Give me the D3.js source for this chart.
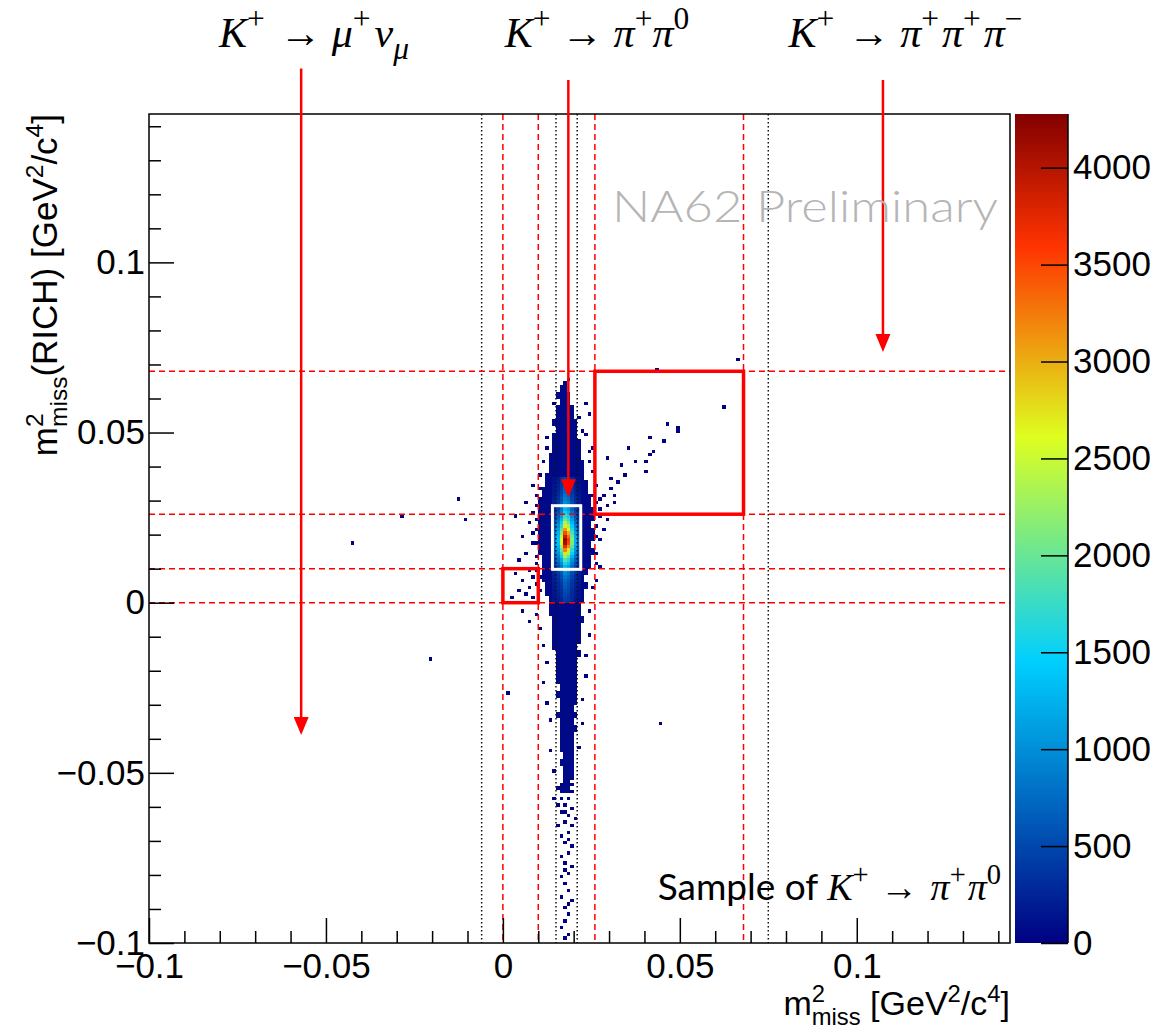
<!DOCTYPE html>
<html>
<head>
<meta charset="utf-8">
<script src="https://cdn.jsdelivr.net/npm/d3@7"></script>
<style>
  body { margin: 0; background: #fff; }
  svg { display: block; }
  text { white-space: pre; }
</style>
</head>
<body>
<svg id="chart" width="1161" height="1030"></svg>
<script>
// ── Axis ranges and ticks ──
const xDomain = [-0.1, 0.1433];
const yDomain = [-0.1, 0.1436];
const majorTicks = [-0.1, -0.05, 0, 0.05, 0.1];
const majorLabels = ["\u22120.1", "\u22120.05", "0", "0.05", "0.1"];
const zMax = 4277;
const zTicks = [0, 500, 1000, 1500, 2000, 2500, 3000, 3500, 4000];

// ── Histogram (bin 0.001 x 0.001) ──
const binW = 0.001, binH = 0.001, bandStep = 0.002;
const bandCount = 60;   // low-count navy body of the distribution
const strayCount = 8;

// solid body of the K+ -> pi+ pi0 band: [y low edge, x from, x to]
const bandRows = [
  [0.062, 0.016, 0.018], [0.060, 0.015, 0.019], [0.058, 0.016, 0.019], [0.056, 0.015, 0.020],
  [0.054, 0.015, 0.020], [0.052, 0.014, 0.021], [0.050, 0.015, 0.021], [0.048, 0.014, 0.021],
  [0.046, 0.014, 0.022], [0.044, 0.014, 0.022], [0.042, 0.013, 0.022], [0.040, 0.013, 0.023],
  [0.038, 0.013, 0.023], [0.036, 0.012, 0.023], [0.034, 0.012, 0.024], [0.032, 0.011, 0.024],
  [0.030, 0.011, 0.025], [0.028, 0.010, 0.025], [0.026, 0.010, 0.026], [0.024, 0.010, 0.026],
  [0.022, 0.010, 0.025], [0.020, 0.010, 0.026], [0.018, 0.010, 0.026], [0.016, 0.010, 0.025],
  [0.014, 0.010, 0.026], [0.012, 0.011, 0.025], [0.010, 0.011, 0.025], [0.008, 0.011, 0.024],
  [0.006, 0.011, 0.023], [0.004, 0.012, 0.024], [0.002, 0.012, 0.023], [0.000, 0.013, 0.023],
  [-0.002, 0.013, 0.022], [-0.004, 0.013, 0.022], [-0.006, 0.014, 0.023], [-0.008, 0.014, 0.022],
  [-0.010, 0.014, 0.022], [-0.012, 0.014, 0.022], [-0.014, 0.014, 0.021], [-0.016, 0.015, 0.022],
  [-0.018, 0.015, 0.021], [-0.020, 0.015, 0.021], [-0.022, 0.015, 0.021], [-0.024, 0.015, 0.021],
  [-0.026, 0.016, 0.021], [-0.028, 0.015, 0.021], [-0.030, 0.016, 0.021], [-0.032, 0.016, 0.020],
  [-0.034, 0.015, 0.021], [-0.036, 0.016, 0.020], [-0.038, 0.016, 0.021], [-0.040, 0.016, 0.020],
  [-0.042, 0.016, 0.020], [-0.044, 0.016, 0.020], [-0.046, 0.017, 0.020], [-0.048, 0.016, 0.020],
  [-0.050, 0.017, 0.020], [-0.052, 0.017, 0.020], [-0.054, 0.017, 0.019], [-0.056, 0.016, 0.019]
];

// sparse tail below the body
const tailCells = [
  [0.016, -0.054], [0.019, -0.054], [0.019, -0.056], [0.015, -0.055],
  [0.016, -0.058], [0.018, -0.058], [0.014, -0.058], [0.017, -0.060], [0.015, -0.060],
  [0.019, -0.061], [0.016, -0.062], [0.017, -0.062], [0.018, -0.063], [0.020, -0.064],
  [0.017, -0.065], [0.015, -0.066], [0.019, -0.066], [0.018, -0.068], [0.016, -0.069],
  [0.018, -0.070], [0.017, -0.071], [0.019, -0.072], [0.018, -0.074], [0.016, -0.075],
  [0.017, -0.077], [0.019, -0.078], [0.017, -0.079], [0.018, -0.080], [0.016, -0.081],
  [0.017, -0.083], [0.018, -0.085], [0.016, -0.087], [0.019, -0.088], [0.018, -0.089],
  [0.017, -0.090], [0.018, -0.092], [0.017, -0.094], [0.016, -0.096], [0.018, -0.098],
  [0.017, -0.099]
];

// isolated entries around the band
const strayCells = [
  [0.003, 0.008], [0.005, 0.006], [0.007, 0.004], [0.008, 0.007], [0.006, 0.002], [0.009, 0.005],
  [0.004, 0.003], [0.002, 0.001], [0.008, 0.001], [0.009, 0.009], [0.007, 0.009],
  [0.004, 0.012], [0.006, 0.014], [0.008, 0.017], [0.005, 0.019], [0.009, 0.021], [0.007, 0.023],
  [0.003, 0.025], [0.008, 0.026], [0.009, 0.013], [0.006, 0.029], [0.009, 0.031], [0.008, 0.034],
  [0.009, 0.017], [0.008, 0.020], [0.009, 0.024], [0.009, 0.028], [0.010, 0.033], [0.010, 0.037],
  [0.011, 0.041], [0.012, 0.045], [0.010, 0.030], [0.009, 0.011], [0.010, 0.007], [0.010, 0.003],
  [0.026, 0.006], [0.027, 0.010], [0.026, 0.014], [0.027, 0.018], [0.028, 0.021], [0.029, 0.024],
  [0.027, 0.027], [0.028, 0.031], [0.030, 0.033], [0.031, 0.029], [0.026, 0.034], [0.025, 0.038],
  [0.026, 0.022], [0.026, 0.019], [0.027, 0.025], [0.026, 0.029], [0.025, 0.031], [0.026, 0.011],
  [0.025, 0.004], [0.024, 0.041], [0.025, 0.045],
  [0.024, 0.044], [0.023, 0.049], [0.024, 0.055], [0.023, 0.058], [0.029, 0.042], [0.033, 0.040],
  [0.035, 0.045], [0.037, 0.041], [0.040, 0.041], [0.040, 0.038], [0.041, 0.043], [0.042, 0.044],
  [0.045, 0.047], [0.041, 0.048], [0.046, 0.052], [0.049, 0.050], [0.049, 0.051], [0.062, 0.057],
  [0.066, 0.071], [0.043, 0.068], [0.030, 0.036], [0.032, 0.035], [0.034, 0.037], [0.027, 0.030],
  [0.029, 0.028], [0.031, 0.031], [0.017, 0.064], [0.018, 0.065], [0.014, 0.058], [0.021, 0.054],
  [0.012, 0.048], [0.022, 0.050],
  [0.009, -0.004], [0.010, -0.008], [0.011, -0.013], [0.012, -0.018], [0.011, -0.024],
  [0.012, -0.030], [0.013, -0.035], [0.024, -0.003], [0.024, -0.010], [0.023, -0.016],
  [0.023, -0.022], [0.022, -0.029], [0.022, -0.036], [0.021, -0.043], [0.013, -0.044],
  [0.014, -0.050], [0.005, -0.003], [0.007, -0.006], [0.001, -0.027],
  [-0.013, 0.030], [-0.029, 0.025], [-0.043, 0.017], [-0.021, -0.017], [-0.011, 0.024],
  [0.044, -0.036]
];

// the populated peak: columns and rows are bin low edges
const peakX = [0.014, 0.015, 0.016, 0.017, 0.018, 0.019, 0.020, 0.021];
const peakY = [0.036, 0.035, 0.034, 0.033, 0.032, 0.031, 0.030, 0.029, 0.028, 0.027, 0.026, 0.025,
  0.024, 0.023, 0.022, 0.021, 0.020, 0.019, 0.018, 0.017, 0.016, 0.015, 0.014, 0.013, 0.012,
  0.011, 0.010, 0.009, 0.008, 0.007, 0.006, 0.005, 0.004, 0.003, 0.002, 0.001, 0.000];
const peakCounts = [
  [120, 190, 320, 500, 430, 280, 180, 110],
  [130, 200, 340, 550, 470, 300, 190, 110],
  [140, 220, 370, 600, 510, 320, 200, 120],
  [150, 240, 400, 650, 560, 350, 220, 130],
  [170, 270, 450, 720, 610, 390, 240, 150],
  [190, 300, 500, 800, 680, 430, 270, 170],
  [210, 340, 560, 900, 770, 480, 300, 190],
  [240, 380, 620, 1000, 850, 540, 340, 210],
  [280, 440, 710, 1150, 980, 620, 390, 240],
  [320, 500, 800, 1300, 1100, 700, 440, 280],
  [370, 580, 930, 1500, 1280, 820, 510, 320],
  [430, 680, 1080, 1750, 1490, 950, 590, 370],
  [490, 780, 1240, 2000, 1700, 1090, 680, 430],
  [560, 900, 1460, 2350, 2000, 1270, 790, 490],
  [630, 1010, 1670, 2700, 2300, 1450, 900, 550],
  [700, 1130, 1920, 3100, 2640, 1650, 1010, 610],
  [760, 1240, 2170, 3500, 2980, 1840, 1110, 670],
  [810, 1330, 2420, 3900, 3320, 2020, 1200, 720],
  [840, 1380, 2600, 4200, 3570, 2150, 1260, 750],
  [830, 1360, 2540, 4100, 3490, 2110, 1240, 740],
  [790, 1280, 2290, 3700, 3150, 1930, 1150, 700],
  [720, 1160, 1980, 3200, 2720, 1690, 1040, 630],
  [650, 1040, 1710, 2750, 2340, 1470, 920, 560],
  [570, 910, 1430, 2300, 1960, 1250, 790, 490],
  [490, 780, 1180, 1900, 1620, 1040, 670, 420],
  [420, 660, 990, 1600, 1360, 880, 570, 350],
  [350, 550, 810, 1300, 1110, 730, 470, 290],
  [300, 470, 680, 1100, 940, 620, 400, 250],
  [260, 410, 590, 950, 810, 540, 350, 220],
  [220, 360, 510, 820, 700, 470, 300, 190],
  [200, 320, 450, 720, 610, 410, 270, 170],
  [180, 290, 400, 650, 550, 370, 240, 150],
  [160, 270, 370, 600, 510, 340, 220, 140],
  [150, 250, 340, 550, 470, 310, 200, 130],
  [140, 230, 310, 500, 430, 290, 190, 120],
  [130, 210, 280, 450, 380, 260, 170, 110],
  [120, 190, 260, 420, 360, 240, 160, 100]
];

// ── Selection cuts and regions ──
const redCuts = [0, 0.01, 0.026, 0.068];
const dottedCutsX = [-0.006, 0.015, 0.021, 0.075];
const redBoxes = [[0, 0, 0.01, 0.01], [0.026, 0.026, 0.068, 0.068]];
const whiteBox = [0.014, 0.0098, 0.022, 0.0285];

// decay-mode arrows: [x, y start, y tip]
const arrows = [[-0.057, 0.157, -0.0389], [0.0185, 0.1536, 0.031], [0.1074, 0.1536, 0.0737]];

// ROOT-like palette
const paletteStops = [0, 0.34, 0.61, 0.84, 1];
const paletteColors = ["rgb(0,0,130)", "rgb(0,207,255)", "rgb(222,255,31)", "rgb(255,51,0)", "rgb(130,0,0)"];

const W = 1161, H = 1030;
const frame = { left: 149, right: 1010, top: 114, bottom: 943 };
const SANS = "'Liberation Sans', Arial, Helvetica, sans-serif";
const SERIF = "'Liberation Serif', 'Times New Roman', serif";
const GOTHIC = "Lato, 'Open Sans', sans-serif";

const svg = d3.select("#chart");
const x = d3.scaleLinear().domain(xDomain).range([frame.left, frame.right]);
const y = d3.scaleLinear().domain(yDomain).range([frame.bottom, frame.top]);
const z = d3.scaleLinear()
  .domain(paletteStops.map((s) => s * zMax))
  .range(paletteColors)
  .interpolate(d3.interpolateRgb)
  .clamp(true);

svg.append("rect").attr("width", W).attr("height", H).attr("fill", "#fff");

// ── histogram cells ──
const hist = svg.append("g").attr("shape-rendering", "crispEdges");

hist.selectAll("rect.band")
  .data(bandRows)
  .join("rect")
  .attr("class", "band")
  .attr("x", (d) => x(d[1]))
  .attr("width", (d) => x(d[2]) - x(d[1]))
  .attr("y", (d) => y(d[0] + bandStep))
  .attr("height", (d) => y(d[0]) - y(d[0] + bandStep))
  .attr("fill", z(bandCount));

hist.selectAll("rect.stray")
  .data(tailCells.concat(strayCells))
  .join("rect")
  .attr("class", "stray")
  .attr("x", (d) => x(d[0]))
  .attr("width", (d) => x(d[0] + binW) - x(d[0]))
  .attr("y", (d) => y(d[1] + binH))
  .attr("height", (d) => y(d[1]) - y(d[1] + binH))
  .attr("fill", z(strayCount));

const peakCells = [];
peakY.forEach((py, i) => peakX.forEach((px, j) => peakCells.push({ x: px, y: py, v: peakCounts[i][j] })));

hist.selectAll("rect.peak")
  .data(peakCells)
  .join("rect")
  .attr("class", "peak")
  .attr("x", (d) => x(d.x))
  .attr("width", (d) => x(d.x + binW) - x(d.x))
  .attr("y", (d) => y(d.y + binH))
  .attr("height", (d) => y(d.y) - y(d.y + binH))
  .attr("fill", (d) => z(d.v));

// ── cut lines ──
const cuts = svg.append("g");
cuts.selectAll("line.dot")
  .data(dottedCutsX)
  .join("line")
  .attr("x1", (d) => x(d)).attr("x2", (d) => x(d))
  .attr("y1", frame.top).attr("y2", frame.bottom)
  .attr("stroke", "#111").attr("stroke-width", 1.5).attr("stroke-dasharray", "1.5,2.5");
cuts.selectAll("line.vcut")
  .data(redCuts)
  .join("line")
  .attr("x1", (d) => x(d)).attr("x2", (d) => x(d))
  .attr("y1", frame.top).attr("y2", frame.bottom)
  .attr("stroke", "#ff0000").attr("stroke-width", 1.5).attr("stroke-dasharray", "6,4");
cuts.selectAll("line.hcut")
  .data(redCuts)
  .join("line")
  .attr("x1", frame.left).attr("x2", frame.right)
  .attr("y1", (d) => y(d)).attr("y2", (d) => y(d))
  .attr("stroke", "#ff0000").attr("stroke-width", 1.5).attr("stroke-dasharray", "6,4");

cuts.selectAll("rect.box")
  .data(redBoxes)
  .join("rect")
  .attr("x", (d) => x(d[0])).attr("y", (d) => y(d[3]))
  .attr("width", (d) => x(d[2]) - x(d[0])).attr("height", (d) => y(d[1]) - y(d[3]))
  .attr("fill", "none").attr("stroke", "#ff0000").attr("stroke-width", 3.5);

cuts.append("rect")
  .attr("x", x(whiteBox[0])).attr("y", y(whiteBox[3]))
  .attr("width", x(whiteBox[2]) - x(whiteBox[0])).attr("height", y(whiteBox[1]) - y(whiteBox[3]))
  .attr("fill", "none").attr("stroke", "#fff").attr("stroke-width", 3);

// ── frame and axes ──
svg.append("rect")
  .attr("x", frame.left).attr("y", frame.top)
  .attr("width", frame.right - frame.left).attr("height", frame.bottom - frame.top)
  .attr("fill", "none").attr("stroke", "#000").attr("stroke-width", 1.5);

const minorTicks = d3.range(-0.1, 0.1435, 0.01).filter((v) => Math.abs(v * 20 - Math.round(v * 20)) > 1e-6);

function styleAxis(g) {
  g.select(".domain").remove();
  g.attr("font-family", SANS).attr("font-size", 35);
  g.selectAll("line").attr("stroke", "#000").attr("stroke-width", 1.5);
  g.selectAll("text").attr("fill", "#000");
}

svg.append("g")
  .attr("transform", `translate(0,${frame.bottom})`)
  .call(d3.axisBottom(x).tickValues(majorTicks).tickFormat((d, i) => majorLabels[i]).tickSize(-25).tickPadding(10))
  .call(styleAxis);
svg.append("g")
  .attr("transform", `translate(0,${frame.bottom})`)
  .call(d3.axisBottom(x).tickValues(minorTicks).tickFormat("").tickSize(-12))
  .call(styleAxis);
svg.append("g")
  .attr("transform", `translate(${frame.left},0)`)
  .call(d3.axisLeft(y).tickValues(majorTicks).tickFormat((d, i) => majorLabels[i]).tickSize(-25).tickPadding(4))
  .call(styleAxis);
svg.append("g")
  .attr("transform", `translate(${frame.left},0)`)
  .call(d3.axisLeft(y).tickValues(minorTicks).tickFormat("").tickSize(-12))
  .call(styleAxis);

// ── colour bar ──
const cb = { x0: 1015, x1: 1068 };
const zy = d3.scaleLinear().domain([0, zMax]).range([frame.bottom, frame.top]);
const grad = svg.append("defs").append("linearGradient")
  .attr("id", "palette").attr("x1", 0).attr("y1", 1).attr("x2", 0).attr("y2", 0);
grad.selectAll("stop")
  .data(paletteStops)
  .join("stop")
  .attr("offset", (d) => d)
  .attr("stop-color", (d, i) => paletteColors[i]);
svg.append("rect")
  .attr("x", cb.x0).attr("y", frame.top)
  .attr("width", cb.x1 - cb.x0).attr("height", frame.bottom - frame.top)
  .attr("fill", "url(#palette)");
svg.append("line")
  .attr("x1", cb.x1).attr("x2", cb.x1).attr("y1", frame.top).attr("y2", frame.bottom)
  .attr("stroke", "#000").attr("stroke-width", 1.5);
svg.append("g")
  .attr("transform", `translate(${cb.x1},0)`)
  .call(d3.axisRight(zy).tickValues(zTicks).tickFormat(d3.format("d")).tickSize(-27).tickPadding(5))
  .call(styleAxis);

// ── rich text helper (sup/sub, stacked scripts) ──
function mathText(parent, parts, opt) {
  const g = parent.append("g");
  const fs = opt.size;
  const ss = opt.scriptScale || 0.7;
  let cx = 0;
  const put = (str, dy, size, p) => {
    const t = g.append("text")
      .attr("x", cx).attr("y", dy)
      .attr("font-size", size)
      .attr("font-family", p.fam || opt.fam)
      .attr("font-style", p.it ? "italic" : "normal")
      .attr("fill", opt.color || "#000")
      .text(str);
    return t.node().getComputedTextLength();
  };
  parts.forEach((p) => {
    const gap = p.gap !== undefined ? p.gap : (opt.gap || 0);
    if (p.t !== undefined) {
      cx += put(p.t, 0, p.size || fs, p) + (p.gap || 0);
    } else {
      let w = 0;
      if (p.sup) w = Math.max(w, put(p.sup, -fs * (opt.supRise || 0.4), fs * ss, p));
      if (p.sub) w = Math.max(w, put(p.sub, fs * (opt.subDrop || 0.28), fs * ss, p));
      cx += w + gap;
    }
  });
  const shift = opt.anchor === "end" ? -cx : opt.anchor === "middle" ? -cx / 2 : 0;
  g.attr("transform", `translate(${opt.x + shift},${opt.y})`);
  return g;
}

// axis titles
mathText(svg, [
  { t: "m" }, { sup: "2", sub: "miss" }, { t: " [GeV" }, { sup: "2" }, { t: "/c" }, { sup: "4" }, { t: "]" }
], { x: frame.right, y: 1015, size: 34, fam: SANS, anchor: "end", supRise: 0.37 });

const yTitle = svg.append("g").attr("transform", `translate(57,${frame.top}) rotate(-90)`);
mathText(yTitle, [
  { t: "m" }, { sup: "2", sub: "miss" }, { t: "(RICH) [GeV" }, { sup: "2" }, { t: "/c" }, { sup: "4" }, { t: "]" }
], { x: 0, y: 0, size: 35, fam: SANS, anchor: "end" });

// ── decay arrows and labels ──
const ann = svg.append("g");
arrows.forEach(([ax, y0, y1]) => {
  const px = x(ax), tip = y(y1);
  ann.append("line")
    .attr("x1", px).attr("x2", px).attr("y1", y(y0)).attr("y2", tip - 10)
    .attr("stroke", "#ff0000").attr("stroke-width", 2.5);
  ann.append("path")
    .attr("d", `M${px - 7.5},${tip - 18}L${px + 7.5},${tip - 18}L${px},${tip}Z`)
    .attr("fill", "#ff0000");
});

const decayLabels = [
  { cx: 316, gap: 4, parts: [{ t: "K", it: true }, { sup: "+" }, { t: " \u2192 " }, { t: "\u03bc", it: true }, { sup: "+" }, { t: "\u03bd", it: true }, { sub: "\u03bc", it: true }] },
  { cx: 597, gap: 0, parts: [{ t: "K", it: true }, { sup: "+" }, { t: " \u2192 " }, { t: "\u03c0", it: true }, { sup: "+" }, { t: "\u03c0", it: true }, { sup: "0" }] },
  { cx: 907, gap: 3, parts: [{ t: "K", it: true }, { sup: "+" }, { t: " \u2192 " }, { t: "\u03c0", it: true }, { sup: "+" }, { t: "\u03c0", it: true }, { sup: "+" }, { t: "\u03c0", it: true }, { sup: "\u2212" }] }
];
decayLabels.forEach((l) => {
  mathText(ann, l.parts, { x: l.cx, y: 47, size: 42, fam: SERIF, anchor: "middle", supRise: 0.42, scriptScale: 0.75, gap: l.gap });
});

mathText(ann, [
  { t: "Sample of ", fam: GOTHIC, size: 37 }, { t: "K", it: true }, { sup: "+" }, { t: " \u2192 ", gap: 3 },
  { t: "\u03c0", it: true }, { sup: "+" }, { t: "\u03c0", it: true }, { sup: "0" }
], { x: 1003, y: 900, size: 38, fam: SERIF, anchor: "end", supRise: 0.42, scriptScale: 0.75, gap: 2 });

ann.append("text")
  .attr("x", 612).attr("y", 222)
  .attr("font-family", GOTHIC).attr("font-weight", 300).attr("font-size", 44)
  .attr("fill", "#b5b5b5")
  .attr("textLength", 386).attr("lengthAdjust", "spacingAndGlyphs")
  .text("NA62 Preliminary");
</script>
</body>
</html>
